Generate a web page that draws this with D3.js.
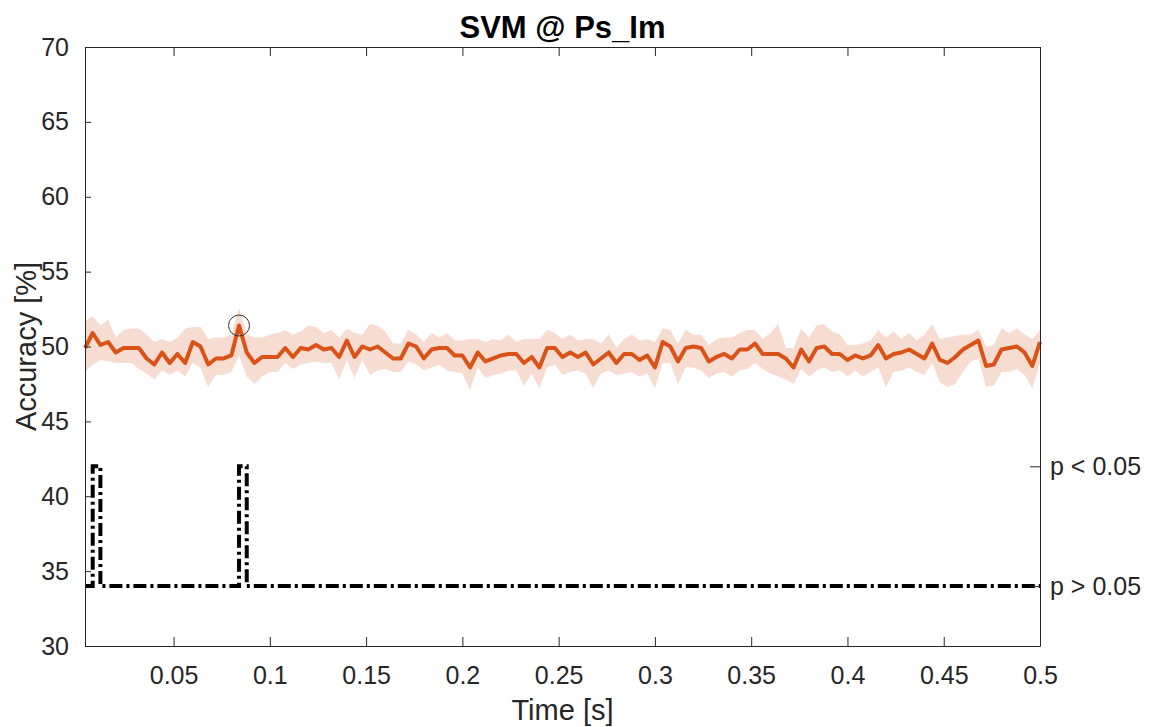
<!DOCTYPE html>
<html>
<head>
<meta charset="utf-8">
<script src="https://cdn.jsdelivr.net/npm/d3@7"></script>
<style>
  html, body { margin: 0; padding: 0; background: #fff; }
  svg { display: block; }
</style>
</head>
<body>
<div id="chart"></div>
<script>
// time axis: one sample every 4 ms, from 0.004 to 0.5 s
const timeStep = 0.004;
const nSamples = 125;

// mean decoding accuracy [%]
const accuracy = [
  49.9,50.9,50.1,50.3,49.6,49.9,49.9,49.9,49.2,48.8,49.6,48.9,49.5,48.9,50.3,50.0,
  48.8,49.2,49.2,49.4,51.4,49.6,48.9,49.3,49.3,49.3,49.9,49.3,49.9,49.8,50.1,49.8,
  49.9,49.3,50.4,49.3,50.0,49.8,50.0,49.6,49.2,49.2,50.2,50.0,49.2,49.8,49.9,49.9,
  49.4,49.4,48.6,49.6,49.0,49.2,49.4,49.5,49.5,48.9,49.3,48.6,49.9,49.9,49.3,
  49.6,49.3,49.6,48.8,49.2,49.6,48.9,49.5,49.5,49.1,49.4,48.6,50.3,50.0,49.0,49.9,
  50.0,49.9,49.0,49.3,49.5,49.2,49.8,49.8,50.2,49.5,49.5,49.5,49.2,48.6,49.8,
  49.0,49.9,50.0,49.5,49.5,49.1,49.4,49.2,49.4,50.1,49.2,49.5,49.6,49.8,49.5,49.2,
  50.2,49.1,48.9,49.3,49.8,50.1,50.4,48.7,48.8,49.8,49.9,50.0,49.6,48.7,50.3
];

// upper / lower edge of the shaded error band [%]
const upper = [
  51.7,52.0,51.4,51.8,50.6,51.1,51.2,51.2,50.8,50.3,50.5,50.3,50.6,51.2,51.3,51.3,
  50.5,50.6,50.6,50.8,52.6,50.8,50.6,50.6,50.8,50.9,51.1,50.8,51.0,51.4,51.3,50.9,
  51.1,50.6,51.2,50.9,50.8,51.5,51.4,51.0,50.2,50.2,51.1,50.8,50.3,50.9,50.6,50.9,
  50.4,50.4,50.5,50.5,50.3,50.5,50.4,50.8,50.3,50.5,50.5,50.5,51.1,50.9,50.5,
  50.8,50.4,50.5,50.5,50.2,50.8,49.9,50.5,50.8,50.4,50.5,50.3,51.2,51.1,50.2,51.1,
  50.8,50.8,50.1,50.5,50.6,50.6,50.9,51.1,51.1,50.5,50.9,51.5,49.9,49.9,51.2,
  50.6,51.4,51.5,51.0,50.8,50.1,50.1,50.2,50.4,51.1,50.6,51.0,50.5,50.9,50.4,50.8,
  51.5,50.5,50.6,50.7,50.8,50.8,51.1,50.0,50.1,51.2,50.9,51.2,50.8,50.5,51.1
];
const lower = [
  48.3,48.8,49.1,49.0,48.9,48.9,48.9,48.5,48.2,47.8,48.4,48.1,48.4,48.0,48.9,48.6,
  47.3,48.1,48.1,48.3,49.4,48.0,47.5,48.0,48.3,48.3,48.9,48.5,48.8,48.9,49.0,48.9,
  48.9,47.8,49.1,47.9,49.1,48.1,48.4,48.5,48.3,48.3,49.0,48.8,48.4,48.6,48.8,48.4,
  48.3,48.2,47.1,48.6,47.9,48.1,48.2,48.4,48.4,47.4,48.2,47.2,48.6,48.8,48.1,
  48.3,48.4,48.2,47.2,48.2,48.4,48.1,48.2,48.3,48.0,48.2,47.2,48.9,48.9,47.5,48.6,
  48.6,48.4,47.9,48.2,48.3,48.0,48.4,48.5,48.9,48.5,48.2,48.0,47.8,47.5,48.5,
  48.0,48.4,48.6,48.3,48.4,48.0,48.4,48.0,48.3,48.6,47.3,48.3,48.4,48.6,48.3,48.1,
  48.9,47.6,47.3,47.5,48.3,49.0,49.2,47.3,47.4,48.3,48.3,48.5,48.1,47.2,48.9
];

// samples where p < 0.05
const sigTimes = [0.008, 0.084];
const sigLevels = [34, 42];            // plotted level for p > 0.05 / p < 0.05
const sigLabels = ["p > 0.05", "p < 0.05"];

const xTicks = [0.05, 0.1, 0.15, 0.2, 0.25, 0.3, 0.35, 0.4, 0.45, 0.5];
const yTicks = [30, 35, 40, 45, 50, 55, 60, 65, 70];

const width = 1150, height = 727;
const margin = { top: 47, right: 110, bottom: 81, left: 85 };
const colors = { line: "#D95319", band: "#F7DDD1", axis: "#262626" };
const font = "'Liberation Sans', Arial, Helvetica, sans-serif";

const times = d3.range(nSamples).map(i => +(timeStep * (i + 1)).toFixed(3));
const rows = times.map((t, i) => ({ t, acc: accuracy[i], hi: upper[i], lo: lower[i] }));
const sigRows = times.map(t => ({
  t, level: sigTimes.some(s => Math.abs(s - t) < 1e-9) ? sigLevels[1] : sigLevels[0]
}));

const svg = d3.select("#chart").append("svg")
  .attr("width", width).attr("height", height)
  .style("font-family", font);

const x = d3.scaleLinear().domain([0.004, 0.5]).range([margin.left, width - margin.right]);
const y = d3.scaleLinear().domain([30, 70]).range([height - margin.bottom, margin.top]);

// error band
svg.append("path")
  .datum(rows)
  .attr("fill", colors.band)
  .attr("d", d3.area().x(d => x(d.t)).y0(d => y(d.lo)).y1(d => y(d.hi)));

// mean accuracy
svg.append("path")
  .datum(rows)
  .attr("fill", "none")
  .attr("stroke", colors.line)
  .attr("stroke-width", 4)
  .attr("stroke-linejoin", "round")
  .attr("d", d3.line().x(d => x(d.t)).y(d => y(d.acc)));

// marker at the maximum
const best = rows[d3.maxIndex(rows, d => d.acc)];
svg.append("circle")
  .attr("cx", x(best.t)).attr("cy", y(best.acc)).attr("r", 10.5)
  .attr("fill", "none").attr("stroke", "#333").attr("stroke-width", 1);

// significance trace
svg.append("path")
  .datum(sigRows)
  .attr("fill", "none")
  .attr("stroke", "#000")
  .attr("stroke-width", 4)
  .attr("stroke-dasharray", "13,4,3,4")
  .attr("d", d3.line().curve(d3.curveStepAfter).x(d => x(d.t)).y(d => y(d.level)));

// axes
const tickFmt = d3.format("~g");
const gx = svg.append("g")
  .attr("transform", `translate(0,${height - margin.bottom})`)
  .call(d3.axisBottom(x).tickValues(xTicks).tickFormat(tickFmt).tickSizeInner(-9).tickSizeOuter(0).tickPadding(20));
const gxTop = svg.append("g")
  .attr("transform", `translate(0,${margin.top})`)
  .call(d3.axisTop(x).tickValues(xTicks).tickFormat("").tickSizeInner(-9).tickSizeOuter(0));
const gy = svg.append("g")
  .attr("transform", `translate(${margin.left},0)`)
  .call(d3.axisLeft(y).tickValues(yTicks).tickSizeInner(-6).tickSizeOuter(0).tickPadding(16));
const gyRight = svg.append("g")
  .attr("transform", `translate(${width - margin.right},0)`)
  .call(d3.axisRight(y).tickValues(sigLevels).tickFormat((d, i) => sigLabels[i])
    .tickSizeInner(-10).tickSizeOuter(0).tickPadding(10));

[gx, gxTop, gy, gyRight].forEach(g => {
  g.select(".domain").attr("stroke", colors.axis).attr("stroke-width", 1);
  g.selectAll(".tick line").attr("stroke", colors.axis).attr("stroke-width", 1);
  g.selectAll(".tick text")
    .attr("fill", colors.axis)
    .style("font-family", font)
    .style("font-size", "25px");
});

// title and axis labels
svg.append("text")
  .attr("x", (margin.left + width - margin.right) / 2).attr("y", 38)
  .attr("text-anchor", "middle")
  .style("font-size", "31px").style("font-weight", "bold")
  .attr("fill", "#000")
  .text("SVM @ Ps_Im");

svg.append("text")
  .attr("x", (margin.left + width - margin.right) / 2).attr("y", 720)
  .attr("text-anchor", "middle")
  .style("font-size", "29px")
  .attr("fill", colors.axis)
  .text("Time [s]");

svg.append("text")
  .attr("transform", `translate(36,${(margin.top + height - margin.bottom) / 2}) rotate(-90)`)
  .attr("text-anchor", "middle")
  .style("font-size", "29px")
  .attr("fill", colors.axis)
  .text("Accuracy [%]");
</script>
</body>
</html>
